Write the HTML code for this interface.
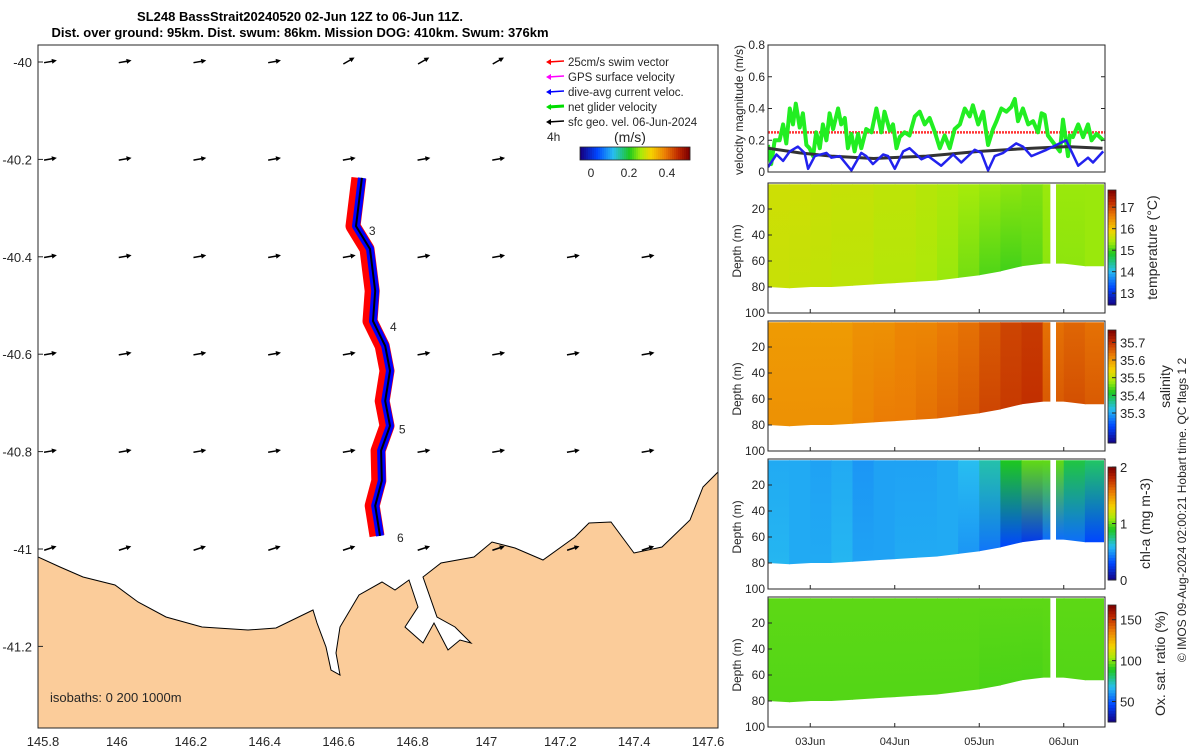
<!DOCTYPE html>
<html><head><meta charset="utf-8">
<style>
body{margin:0;background:#fff;font-family:"Liberation Sans","DejaVu Sans",sans-serif;}
svg text{font-family:"Liberation Sans","DejaVu Sans",sans-serif;fill:#262626;}
</style></head>
<body>
<svg id="fig" width="1200" height="750" viewBox="0 0 1200 750" xmlns="http://www.w3.org/2000/svg">
<defs id="defs"></defs>
<g>
<text x="300" y="21" text-anchor="middle" font-size="13" font-weight="bold" style="fill:#000">SL248 BassStrait20240520 02-Jun 12Z to 06-Jun 11Z.</text>
<text x="300" y="37" text-anchor="middle" font-size="13" font-weight="bold" style="fill:#000">Dist. over ground: 95km. Dist. swum: 86km. Mission DOG: 410km. Swum: 376km</text>
</g>
<g id="map"></g>
<g id="vel"></g>
<g id="heat"></g>
<text transform="translate(1186,510) rotate(-90)" text-anchor="middle" font-size="12">© IMOS 09-Aug-2024 02:00:21 Hobart time. QC flags 1  2</text>
</svg>
<script>
const NS="http://www.w3.org/2000/svg";
function mk(tag,attrs,parent,txt){const e=document.createElementNS(NS,tag);for(const k in attrs)e.setAttribute(k,attrs[k]);if(txt!==undefined)e.textContent=txt;parent.appendChild(e);return e;}

// ---------- MAP DATA ----------
const mapLonTicks=[145.8,146,146.2,146.4,146.6,146.8,147,147.2,147.4,147.6];
const mapLatTicks=[-40,-40.2,-40.4,-40.6,-40.8,-41,-41.2];
const trackLon=[146.663,146.647,146.685,146.699,146.693,146.726,146.739,146.726,146.739,146.715,146.717,146.699,146.712];
const trackLat=[-40.238,-40.337,-40.384,-40.470,-40.532,-40.583,-40.634,-40.696,-40.747,-40.798,-40.860,-40.911,-40.973];
const dayLabels=["3","4","5","6"];
const dayLon=[146.682,146.739,146.763,146.758];
const dayLat=[-40.345,-40.542,-40.753,-40.975];

// ---------- VELOCITY DATA ----------
const velTicks=[0,0.2,0.4,0.6,0.8];
const netHours=[0,0.9,1.9,3.3,4.3,5.2,6.2,7.1,7.9,9.0,9.9,10.9,11.8,12.8,13.7,14.7,15.6,16.6,17.5,18.5,19.9,20.8,21.8,22.7,23.7,24.6,25.6,26.5,27.9,29.4,30.8,32.2,33.1,34.6,35.5,36.5,37.4,38.8,40.2,41.7,43.1,44.5,45.9,47.4,48.8,50.2,51.6,53.0,54.5,55.9,57.3,58.2,59.7,61.1,62.5,63.9,64.9,66.3,67.7,69.1,70.1,71.0,72.4,73.9,75.3,76.7,77.7,78.6,79.5,82.9,83.8,85.2,85.7,86.6,88.1,89.5,90.9,91.9,93.3,95.2];
const netVel=[0.17,0.05,0.2,0.2,0.3,0.18,0.4,0.3,0.43,0.28,0.37,0.17,0.15,0.1,0.25,0.15,0.3,0.2,0.37,0.27,0.4,0.3,0.34,0.15,0.24,0.13,0.24,0.15,0.27,0.25,0.4,0.25,0.38,0.26,0.3,0.15,0.22,0.25,0.23,0.35,0.38,0.3,0.34,0.25,0.15,0.23,0.15,0.27,0.3,0.4,0.35,0.42,0.3,0.38,0.17,0.27,0.32,0.4,0.38,0.41,0.46,0.32,0.4,0.3,0.32,0.25,0.37,0.36,0.23,0.13,0.33,0.1,0.23,0.22,0.3,0.22,0.3,0.2,0.24,0.2];
const curHours=[0,2.4,4.3,6.2,8.5,10.4,11.4,13.3,16.6,18.0,20.4,23.7,26.5,27.9,29.8,32.7,34.1,36.0,38.4,40.2,43.6,45.5,49.2,52.6,54.9,58.7,60.6,62.5,64.4,66.8,70.5,72.4,74.8,79.1,84.7,88.1,90.9,92.3,95.2];
const curVel=[0.03,0.11,0.07,0.13,0.16,0.12,0.02,0.1,0.12,0.09,0.1,0.01,0.12,0.1,0.05,0.11,0.1,0.02,0.13,0.15,0.08,0.1,0.04,0.11,0.06,0.14,0.12,0.01,0.1,0.12,0.18,0.16,0.1,0.14,0.2,0.04,0.09,0.06,0.13];
const geoHours=[0,9,18,30,45,60,75,85,95];
const geoVel=[0.15,0.12,0.1,0.085,0.1,0.13,0.15,0.16,0.15];
const swimVel=0.25;

// ---------- SECTION DATA (6-hourly columns) ----------
const colHours=[0,6,12,18,24,30,36,42,48,54,60,66,72,78,84,90];
const bottomDepth=[80,81,80,80,79,78,77,76,75,73,71,68,64,62,62,64];
const tempTop=[15.66,15.66,15.62,15.6,15.6,15.55,15.55,15.5,15.45,15.4,15.35,15.3,15.25,15.35,15.35,15.35];
const tempBot=[15.62,15.6,15.58,15.55,15.55,15.5,15.5,15.45,15.35,15.2,15.05,15.0,15.1,15.3,15.3,15.35];
const salTop=[35.60,35.60,35.60,35.60,35.61,35.61,35.62,35.62,35.63,35.64,35.66,35.68,35.69,35.64,35.65,35.64];
const salBot=[35.61,35.61,35.61,35.61,35.62,35.63,35.63,35.64,35.65,35.66,35.68,35.69,35.70,35.66,35.67,35.66];
const chlTop=[0.55,0.55,0.53,0.55,0.5,0.53,0.53,0.53,0.55,0.6,0.7,0.9,1.0,1.0,0.85,0.8];
const chlBot=[0.58,0.55,0.55,0.58,0.53,0.53,0.55,0.55,0.55,0.5,0.42,0.3,0.25,0.4,0.4,0.3];
const oxTop=[96,96,96,96,96,96,96,96,96,96,96,96,96,96,96,96];
const oxBot=[95,95,95,95,95,95,95,95,95,95,94,94,94,95,95,95];
const depthTicks=[20,40,60,80,100];
const dayTickHours=[12,36,60,84];
const dayTickLabels=["03Jun","04Jun","05Jun","06Jun"];

// ---------- helpers ----------
const mx=lon=>43+(lon-145.8)/0.2*73.9;
const my=lat=>62+(-40-lat)/0.2*97.4;
const stops=[[0,[20,0,130]],[0.15,[0,70,255]],[0.3,[40,190,240]],[0.45,[30,200,30]],[0.55,[165,235,10]],[0.65,[245,210,0]],[0.78,[235,125,5]],[0.9,[190,40,0]],[1,[125,0,0]]];
function cmap(v){v=Math.max(0,Math.min(1,v));for(let i=1;i<stops.length;i++){if(v<=stops[i][0]){const a=stops[i-1],b=stops[i];const f=(v-a[0])/(b[0]-a[0]);const c=a[1].map((x,j)=>Math.round(x+(b[1][j]-x)*f));return `rgb(${c[0]},${c[1]},${c[2]})`;}}return "rgb(125,0,0)";}

// ---------- MAP ----------
const map=document.getElementById('map');
const defs=document.getElementById('defs');
mk('clipPath',{id:'mapclip'},defs);
mk('rect',{x:38,y:45,width:680,height:683},document.getElementById('mapclip'));
const mapInner=mk('g',{'clip-path':'url(#mapclip)'},map);
const land=mk('path',{d:"M38,557 L60,567 L83,577 L115,585 L138,602 L166,617 L202,627 L248,630 L276,628 L313,610 L317,623 L326,647 L331,670 L340,675 L336,653 L340,627 L359,595 L382,582 L395,590 L409,580 L418,607 L405,627 L423,643 L434,623 L448,650 L460,640 L471,643 L455,627 L437,617 L423,577 L441,563 L474,557 L492,542 L515,548 L543,560 L575,537 L589,523 L611,522 L634,553 L662,547 L690,520 L703,487 L720,470 L720,730 L36,730 Z",fill:'#fbcc9a',stroke:'#000','stroke-width':1},mapInner);


// arrow field
for(let r=0;r<6;r++){for(let c=0;c<9;c++){const x=48+c*74.7,y=62+r*97.4;if(r<2&&c>6)continue;
 const ang=(r==0&&c>=4)?-30:(r==5?-18:-10);
 const g=mk('g',{transform:`translate(${x},${y}) rotate(${ang})`},mapInner);
 
 
 mk('line',{x1:-4,y1:0,x2:6,y2:0,stroke:'#000','stroke-width':1.5},g);
 mk('path',{d:'M9,0 L4,-2.5 L4,2.5 Z',fill:'#000'},g);}}
// track
const pts=trackLon.map((l,i)=>`${mx(l).toFixed(1)},${my(trackLat[i]).toFixed(1)}`).join(' ');
const ptsL=trackLon.map((l,i)=>`${(mx(l)-3).toFixed(1)},${my(trackLat[i]).toFixed(1)}`).join(' ');
const red=mk('polyline',{points:ptsL,fill:'none',stroke:'#f00','stroke-width':15,'stroke-linejoin':'round'},mapInner);


const blue=mk('polyline',{points:pts,fill:'none',stroke:'#00f','stroke-width':8,'stroke-linejoin':'round'},mapInner);


const blk=mk('polyline',{points:pts,fill:'none',stroke:'#000','stroke-width':2},mapInner);


dayLabels.forEach((d,i)=>{const t=mk('text',{x:mx(dayLon[i]),y:my(dayLat[i])+5,'font-size':12},mapInner,d);
 
 });
mk('text',{x:50,y:702,'font-size':13},mapInner,'isobaths: 0   200  1000m');
mk('rect',{x:38,y:45,width:680,height:683,fill:'none',stroke:'#262626','stroke-width':1},map);
mapLonTicks.forEach(v=>{const x=mx(v);const t=mk('text',{x:x,y:746,'font-size':13,'text-anchor':'middle'},map,String(v));
 
 });
mapLatTicks.forEach(v=>{const y=my(v);mk('line',{x1:38,y1:y,x2:43,y2:y,stroke:'#262626'},map);const t=mk('text',{x:32,y:y+5,'font-size':13,'text-anchor':'end'},map,String(v));
 
 });
// legend
const leg=mk('g',{},map);


const legItems=[["25cm/s swim vector","#f00"],["GPS surface velocity","#f0f"],["dive-avg current veloc.","#00f"],["net glider velocity","#0d0"],["sfc geo. vel. 06-Jun-2024","#000"]];
legItems.forEach((it,i)=>{const y=62+i*15;mk('line',{x1:548,y1:y,x2:564,y2:y-1,stroke:it[1],'stroke-width':i==3?3:1.5},leg);mk('path',{d:`M546,${y} l5,-3 l0,6 z`,fill:it[1]},leg);mk('text',{x:568,y:y+4,'font-size':11.5},leg,it[0]);});
mk('text',{x:547,y:141,'font-size':12},leg,'4h');
mk('text',{x:614,y:142,'font-size':14},leg,'(m/s)');
for(let i=0;i<55;i++){mk('rect',{x:580+i*2,y:147,width:2.2,height:13,fill:cmap(i/54)},leg);}
mk('rect',{x:580,y:147,width:110,height:13,fill:'none',stroke:'#262626','stroke-width':0.8},leg);
[[0,591],[0.2,629],[0.4,667]].forEach(a=>mk('text',{x:a[1],y:177,'font-size':12,'text-anchor':'middle'},leg,String(a[0])));

// ---------- VELOCITY PANEL ----------
const vel=document.getElementById('vel');
const VX0=768,VX1=1105,VY0=172,VY1=45;
const tx=h=>VX0+h/24*84.5;
const vy=v=>VY0-v/0.8*(VY0-VY1);
mk('clipPath',{id:'vclip'},defs);
mk('rect',{x:VX0,y:VY1,width:VX1-VX0,height:VY0-VY1},document.getElementById('vclip'));
const vIn=mk('g',{'clip-path':'url(#vclip)'},vel);
const swim=mk('line',{x1:VX0,x2:VX1,y1:vy(swimVel),y2:vy(swimVel),stroke:'#f33','stroke-width':2.5,'stroke-dasharray':'2,1'},vIn);


const netL=mk('polyline',{points:netHours.map((h,i)=>`${tx(h).toFixed(1)},${vy(netVel[i]).toFixed(1)}`).join(' '),fill:'none',stroke:'#2e2','stroke-width':4,'stroke-linejoin':'round'},vIn);


const geoL=mk('polyline',{points:geoHours.map((h,i)=>`${tx(h).toFixed(1)},${vy(geoVel[i]).toFixed(1)}`).join(' '),fill:'none',stroke:'#333','stroke-width':3},vIn);


const curL=mk('polyline',{points:curHours.map((h,i)=>`${tx(h).toFixed(1)},${vy(curVel[i]).toFixed(1)}`).join(' '),fill:'none',stroke:'#22e','stroke-width':2.5,'stroke-linejoin':'round'},vIn);


mk('rect',{x:VX0,y:VY1,width:VX1-VX0,height:VY0-VY1,fill:'none',stroke:'#262626'},vel);
velTicks.forEach(v=>{const y=vy(v);mk('line',{x1:VX0,x2:VX0+4,y1:y,y2:y,stroke:'#262626'},vel);mk('line',{x1:VX1,x2:VX1-4,y1:y,y2:y,stroke:'#262626'},vel);
 const t=mk('text',{x:VX0-3,y:y+4,'font-size':12,'text-anchor':'end'},vel,String(v));
 
 });
mk('text',{transform:'translate(743,110) rotate(-90)','font-size':12,'text-anchor':'middle'},vel,'velocity magnitude (m/s)');

// ---------- SECTIONS ----------
const heat=document.getElementById('heat');
const panels=[
 {name:'temperature',y0:183,top:tempTop,bot:tempBot,min:12.45,max:17.8,cb:[190,305],ticks:[13,14,15,16,17],label:'temperature (°C)',lx:1157},
 {name:'salinity',y0:321,top:salTop,bot:salBot,min:35.13,max:35.77,cb:[330,443],ticks:[35.3,35.4,35.5,35.6,35.7],label:'salinity',lx:1170},
 {name:'chlorophyll',y0:459,top:chlTop,bot:chlBot,min:0,max:2,cb:[467,580],ticks:[0,1,2],label:'chl-a (mg m-3)',lx:1150},
 {name:'oxygen',y0:597,top:oxTop,bot:oxBot,min:25,max:168,cb:[605,722],ticks:[50,100,150],label:'Ox. sat. ratio (%)',lx:1165}];
const H=130;
panels.forEach((p,pi)=>{
 const g=mk('g',{},heat);
 
 
 const dy=d=>p.y0+d/100*H;
 const n=(v)=>(v-p.min)/(p.max-p.min);
 colHours.forEach((h,i)=>{
  const gid='gr'+pi+'_'+i;
  const lg=mk('linearGradient',{id:gid,x1:0,y1:0,x2:0,y2:1},defs);
  mk('stop',{offset:'0','stop-color':cmap(n(p.top[i]))},lg);
  mk('stop',{offset:'1','stop-color':cmap(n(p.bot[i]))},lg);
  const x0=tx(h),x1=Math.min(tx(h+6),VX1-1);
  const d0=bottomDepth[i],d1=bottomDepth[Math.min(i+1,bottomDepth.length-1)];
  const c=mk('path',{d:`M${x0},${dy(1)} L${x1+0.6},${dy(1)} L${x1+0.6},${dy(d1)} L${x0},${dy(d0)} Z`,fill:`url(#${gid})`},g);
  
  
 });
 mk('rect',{x:tx(80.2),y:p.y0,width:tx(81.8)-tx(80.2),height:H,fill:'#fff'},g);
 mk('rect',{x:VX1-1,y:p.y0,width:2,height:H,fill:'#fff'},g);
 mk('rect',{x:VX0,y:p.y0,width:VX1-VX0,height:H,fill:'none',stroke:'#262626'},g);
 depthTicks.forEach(d=>{const y=dy(d);mk('line',{x1:VX0,x2:VX0+4,y1:y,y2:y,stroke:'#262626'},g);
  const t=mk('text',{x:VX0-3,y:y+4,'font-size':12,'text-anchor':'end'},g,String(d));
  
  });
 dayTickHours.forEach(h=>{mk('line',{x1:tx(h),x2:tx(h),y1:p.y0+H,y2:p.y0+H-4,stroke:'#262626'},g);});
 mk('text',{transform:`translate(741,${p.y0+H/2+3}) rotate(-90)`,'font-size':12,'text-anchor':'middle'},g,'Depth (m)');
 // colorbar
 const cb=mk('g',{},g);
 
 
 const N=40,hh=(p.cb[1]-p.cb[0])/N;
 for(let k=0;k<N;k++){mk('rect',{x:1108,y:p.cb[1]-(k+1)*hh,width:8,height:hh+0.5,fill:cmap((k+0.5)/N)},cb);}
 mk('rect',{x:1108,y:p.cb[0],width:8,height:p.cb[1]-p.cb[0],fill:'none',stroke:'#262626','stroke-width':0.8},cb);
 p.ticks.forEach(v=>{const y=p.cb[1]-(v-p.min)/(p.max-p.min)*(p.cb[1]-p.cb[0]);mk('line',{x1:1112,x2:1116,y1:y,y2:y,stroke:'#262626'},cb);mk('text',{x:1120,y:y+5,'font-size':13},cb,String(v));});
 mk('text',{transform:`translate(${p.lx},${(p.cb[0]+p.cb[1])/2}) rotate(-90)`,'font-size':14,'text-anchor':'middle'},cb,p.label);
});
dayTickHours.forEach((h,i)=>{const t=mk('text',{x:tx(h),y:745,'font-size':11,'text-anchor':'middle'},heat,dayTickLabels[i]);
 
 });
</script>
</body></html>
